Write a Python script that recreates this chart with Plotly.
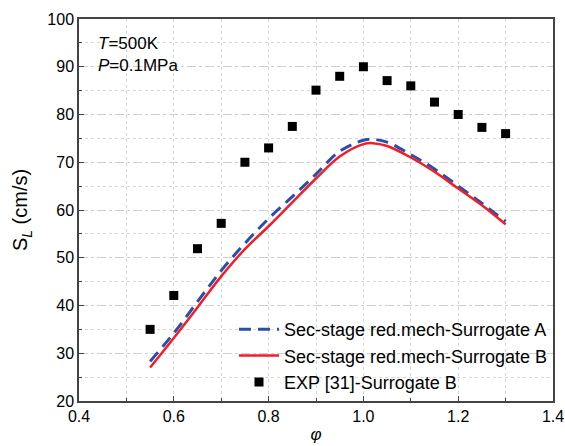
import plotly.graph_objects as go

# equivalence ratio
phi_exp = [0.55, 0.60, 0.65, 0.70, 0.75, 0.80, 0.85, 0.90, 0.95, 1.00,
           1.05, 1.10, 1.15, 1.20, 1.25, 1.30]
sl_exp = [35.0, 42.1, 51.9, 57.2, 70.0, 73.0, 77.5, 85.1, 88.0, 90.0,
          87.1, 86.0, 82.6, 80.0, 77.3, 76.0]

phi_sim = [0.55, 0.60, 0.65, 0.70, 0.75, 0.80, 0.85, 0.90, 0.95, 1.00,
           1.02, 1.05, 1.10, 1.15, 1.20, 1.25, 1.30]
sl_surr_a = [28.3, 34.2, 40.8, 47.3, 53.0, 58.2, 62.8, 67.5, 72.3, 74.6,
             74.8, 74.2, 71.6, 68.6, 65.0, 61.4, 57.6]
sl_surr_b = [27.0, 33.2, 39.6, 46.1, 51.8, 56.6, 61.6, 66.6, 71.2, 73.8,
             74.0, 73.4, 71.0, 68.0, 64.5, 61.0, 57.0]

FONT = "Liberation Sans, Arial, sans-serif"

fig = go.Figure()

fig.add_trace(go.Scatter(
    x=phi_sim, y=sl_surr_a, mode="lines", line_shape="spline",
    line=dict(color="#2b4ea8", width=3, dash="12px,7px"),
    name="Sec-stage red.mech-Surrogate A"))
fig.add_trace(go.Scatter(
    x=phi_sim, y=sl_surr_b, mode="lines", line_shape="spline",
    line=dict(color="#f01e28", width=2.5),
    name="Sec-stage red.mech-Surrogate B"))
fig.add_trace(go.Scatter(
    x=phi_exp, y=sl_exp, mode="markers",
    marker=dict(symbol="square", size=9, color="black"),
    name="EXP [31]-Surrogate B"))

fig.add_annotation(
    x=0.036, y=0.965, xref="paper", yref="paper", xanchor="left", yanchor="top",
    showarrow=False, align="left",
    text="<i>T</i>=500K<br><i>P</i>=0.1MPa",
    font=dict(family=FONT, size=17, color="black"))

fig.update_layout(
    width=565, height=446,
    margin=dict(l=79, r=12, t=19, b=45),
    paper_bgcolor="white", plot_bgcolor="white",
    font=dict(family=FONT, size=16, color="black"),
    showlegend=True,
    legend=dict(x=1.0, y=0.0, xanchor="right", yanchor="bottom",
                bgcolor="rgba(0,0,0,0)", font=dict(size=18),
                tracegroupgap=0, itemwidth=40),
    xaxis=dict(
        range=[0.4, 1.4], dtick=0.2, tickformat=".1f", automargin=False,
        showline=True, mirror=True, linecolor="#444", linewidth=1.5,
        ticks="inside", ticklen=5, tickcolor="#444",
        showgrid=True, gridcolor="#d8d8d8", griddash="dot", gridwidth=1,
        minor=dict(dtick=0.1, ticks="inside", ticklen=3, tickcolor="#444",
                   showgrid=True, gridcolor="#d8d8d8", griddash="dot"),
        zeroline=False,
        title=dict(text="<i>φ</i>", standoff=4, font=dict(size=17)),
    ),
    yaxis=dict(
        range=[20, 100], dtick=10, automargin=False,
        showline=True, mirror=True, linecolor="#444", linewidth=1.5,
        ticks="inside", ticklen=5, tickcolor="#444",
        showgrid=True, gridcolor="#d0d0d0", griddash="dashdot", gridwidth=1,
        minor=dict(dtick=5, ticks="inside", ticklen=3, tickcolor="#444",
                   showgrid=True, gridcolor="#d8d8d8", griddash="dot"),
        zeroline=False,
        title=dict(text="S<sub><i>L</i></sub> (cm/s)", standoff=14,
                   font=dict(size=20)),
    ),
)

# drop the default 8px body margin so the figure fills the window exactly
fig.write_html("out.html",
               config={"displayModeBar": False},
               post_script="document.body.style.margin='0';"
                           "document.body.style.overflow='hidden';")
